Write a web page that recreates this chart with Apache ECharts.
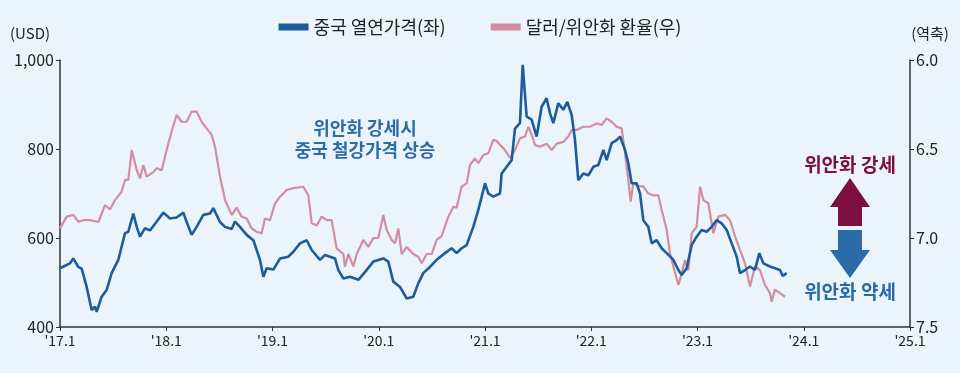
<!DOCTYPE html>
<html><head><meta charset="utf-8">
<script src="https://cdn.jsdelivr.net/npm/echarts@6/dist/echarts.min.js"></script>
<style>html,body{margin:0;padding:0;background:#eaf4fa;}#c{width:960px;height:373px;}</style>
</head><body><div id="c"></div>
<script>
// China hot-rolled steel price (USD), left axis — time in decimal years
const steelT = [2017.000,2017.094,2017.125,2017.172,2017.204,2017.251,2017.298,2017.329,2017.345,2017.392,2017.439,2017.486,2017.549,2017.612,2017.643,2017.690,2017.722,2017.753,2017.800,2017.847,2017.910,2017.973,2018.035,2018.098,2018.161,2018.192,2018.239,2018.286,2018.349,2018.412,2018.443,2018.506,2018.553,2018.616,2018.647,2018.694,2018.757,2018.820,2018.882,2018.914,2018.945,2019.008,2019.071,2019.149,2019.196,2019.259,2019.322,2019.369,2019.447,2019.494,2019.541,2019.588,2019.620,2019.667,2019.729,2019.808,2019.886,2019.949,2020.043,2020.090,2020.137,2020.200,2020.263,2020.325,2020.372,2020.419,2020.482,2020.545,2020.624,2020.686,2020.733,2020.780,2020.827,2020.890,2020.937,2020.969,2021.000,2021.031,2021.078,2021.141,2021.157,2021.204,2021.251,2021.282,2021.329,2021.355,2021.392,2021.439,2021.486,2021.533,2021.580,2021.612,2021.643,2021.690,2021.737,2021.775,2021.816,2021.847,2021.878,2021.925,2021.973,2022.020,2022.067,2022.114,2022.145,2022.192,2022.239,2022.271,2022.318,2022.349,2022.380,2022.427,2022.459,2022.490,2022.537,2022.569,2022.616,2022.663,2022.710,2022.773,2022.820,2022.851,2022.898,2022.945,2022.992,2023.039,2023.086,2023.133,2023.180,2023.227,2023.275,2023.322,2023.369,2023.400,2023.447,2023.494,2023.541,2023.582,2023.620,2023.682,2023.729,2023.776,2023.802,2023.839];
const steelV = [532,543,554,535,531,490,438,446,434,468,483,521,551,611,614,655,625,603,622,617,637,657,644,646,657,636,607,625,652,655,667,636,625,620,637,625,607,595,551,513,532,529,554,558,569,588,595,573,551,562,558,554,528,509,513,506,528,547,554,547,502,490,464,468,498,521,535,551,566,577,566,577,584,625,663,693,723,700,693,700,745,760,775,846,858,989,873,866,828,895,914,880,858,903,888,906,876,820,730,745,741,760,764,798,775,813,820,828,798,768,723,723,700,640,625,588,595,577,566,551,528,517,532,584,603,618,614,625,640,633,618,588,558,521,528,536,528,566,543,536,532,528,515,521];
// USD/CNY exchange rate, right axis (inverted)
const fxT = [2017.000,2017.063,2017.125,2017.172,2017.220,2017.282,2017.361,2017.424,2017.471,2017.518,2017.580,2017.612,2017.643,2017.675,2017.722,2017.753,2017.784,2017.816,2017.878,2017.910,2017.957,2018.004,2018.051,2018.098,2018.145,2018.192,2018.239,2018.286,2018.333,2018.380,2018.427,2018.459,2018.506,2018.553,2018.616,2018.663,2018.710,2018.757,2018.804,2018.851,2018.898,2018.929,2018.976,2019.024,2019.071,2019.133,2019.196,2019.290,2019.337,2019.369,2019.416,2019.463,2019.510,2019.557,2019.604,2019.667,2019.682,2019.714,2019.761,2019.792,2019.855,2019.902,2019.949,2019.996,2020.043,2020.075,2020.122,2020.153,2020.184,2020.216,2020.263,2020.325,2020.372,2020.404,2020.451,2020.498,2020.545,2020.592,2020.655,2020.702,2020.733,2020.780,2020.827,2020.859,2020.906,2020.937,2020.984,2021.031,2021.078,2021.110,2021.141,2021.188,2021.235,2021.282,2021.329,2021.376,2021.408,2021.439,2021.471,2021.518,2021.580,2021.627,2021.675,2021.737,2021.784,2021.816,2021.863,2021.925,2021.988,2022.051,2022.098,2022.145,2022.192,2022.239,2022.286,2022.318,2022.349,2022.371,2022.396,2022.443,2022.490,2022.537,2022.584,2022.631,2022.663,2022.710,2022.741,2022.773,2022.820,2022.851,2022.882,2022.914,2022.945,2022.992,2023.024,2023.055,2023.102,2023.149,2023.196,2023.259,2023.306,2023.353,2023.400,2023.447,2023.494,2023.541,2023.588,2023.635,2023.682,2023.698,2023.729,2023.776,2023.823];
const fxV = [6.946,6.880,6.870,6.908,6.900,6.900,6.910,6.815,6.840,6.787,6.740,6.674,6.674,6.506,6.618,6.665,6.590,6.655,6.630,6.608,6.620,6.506,6.400,6.309,6.347,6.347,6.290,6.290,6.347,6.384,6.420,6.487,6.655,6.787,6.871,6.830,6.880,6.890,6.946,6.965,6.974,6.890,6.900,6.805,6.768,6.730,6.720,6.712,6.760,6.917,6.930,6.880,6.900,6.900,7.058,7.090,7.161,7.090,7.160,7.090,7.011,7.050,7.000,7.000,6.871,6.955,7.011,7.030,6.946,7.090,7.050,7.090,7.105,7.142,7.090,7.090,7.011,6.990,6.880,6.824,6.830,6.712,6.693,6.590,6.552,6.580,6.534,6.524,6.449,6.455,6.476,6.506,6.550,6.506,6.440,6.430,6.375,6.420,6.478,6.487,6.470,6.506,6.470,6.460,6.430,6.393,6.393,6.375,6.375,6.356,6.365,6.328,6.347,6.375,6.384,6.524,6.674,6.796,6.693,6.710,6.710,6.750,6.760,6.760,6.843,6.955,7.086,7.160,7.264,7.199,7.124,7.180,6.974,6.937,6.712,6.787,6.805,6.974,6.880,6.870,6.900,6.990,7.067,7.142,7.273,7.160,7.180,7.264,7.310,7.358,7.290,7.310,7.330];

const seriesNames = ['중국 열연가격(좌)', '달러/위안화 환율(우)'];
const leftUnit = '(USD)';
const rightUnit = '(역축)';
const noteMain = '위안화 강세시\n중국 철강가격 상승';
const noteUp = '위안화 강세';
const noteDown = '위안화 약세';

const FONT = '"Noto Sans CJK KR", "Noto Sans", sans-serif';
const BLUE = '#1d5b9b', PINK = '#d38da1', MAROON = '#7c0f3f', ARROWBLUE = '#2a6aa6';
const zip = (a, b) => a.map((t, i) => [t, b[i]]);

const chart = echarts.init(document.getElementById('c'));
chart.setOption({
  backgroundColor: '#eaf4fa',
  animation: false,
  textStyle: { fontFamily: FONT },
  grid: { left: 60, right: 50, top: 60, bottom: 46 },
  legend: {
    top: 13, left: 'center', itemGap: 45, itemWidth: 30, itemHeight: 7, icon: 'rect',
    textStyle: { fontSize: 18, color: '#222', fontFamily: FONT },
    data: seriesNames
  },
  xAxis: {
    type: 'value', min: 2017, max: 2025, interval: 1,
    axisLine: { show: true, lineStyle: { color: '#333', width: 1.5 } },
    axisTick: { show: true, length: 4, lineStyle: { color: '#333' } },
    splitLine: { show: false },
    axisLabel: { color: '#222', fontSize: 14, margin: 7,
      formatter: v => "'" + String(v).slice(2) + '.1' }
  },
  yAxis: [
    { type: 'value', min: 400, max: 1000, interval: 200, position: 'left',
      axisLine: { show: true, lineStyle: { color: '#333', width: 1.5 } },
      axisTick: { show: true, length: 4, lineStyle: { color: '#333' } },
      splitLine: { show: false },
      axisLabel: { color: '#222', fontSize: 16, margin: 6,
        formatter: v => v.toLocaleString('en-US') } },
    { type: 'value', min: 6.0, max: 7.5, interval: 0.5, position: 'right', inverse: true,
      axisLine: { show: true, lineStyle: { color: '#333', width: 1.5 } },
      axisTick: { show: true, length: 4, lineStyle: { color: '#333' } },
      splitLine: { show: false },
      axisLabel: { color: '#222', fontSize: 16, margin: 6, formatter: v => v.toFixed(1) } }
  ],
  series: [
    { name: seriesNames[1], type: 'line', yAxisIndex: 1, data: zip(fxT, fxV),
      showSymbol: false, color: PINK, lineStyle: { width: 2.2, color: PINK }, z: 2 },
    { name: seriesNames[0], type: 'line', yAxisIndex: 0, data: zip(steelT, steelV),
      showSymbol: false, color: BLUE, lineStyle: { width: 2.6, color: BLUE }, z: 3 }
  ],
  graphic: [
    { type: 'text', x: 30, y: 33, style: { text: leftUnit, fill: '#222',
        font: '15px ' + FONT, textAlign: 'center', textVerticalAlign: 'middle' } },
    { type: 'text', x: 930, y: 33, style: { text: rightUnit, fill: '#222',
        font: '15px ' + FONT, textAlign: 'center', textVerticalAlign: 'middle' } },
    { type: 'text', x: 365, y: 139, style: { text: noteMain, fill: '#2e6ca8',
        font: 'bold 18px ' + FONT, textAlign: 'center', textVerticalAlign: 'middle', lineHeight: 22 } },
    { type: 'text', x: 850, y: 165, style: { text: noteUp, fill: MAROON,
        font: 'bold 19px ' + FONT, textAlign: 'center', textVerticalAlign: 'middle' } },
    { type: 'polygon', shape: { points: [[850,178],[870,207],[862,207],[862,226],[838,226],[838,207],[830,207]] },
      style: { fill: MAROON } },
    { type: 'polygon', shape: { points: [[838,230],[862,230],[862,250],[870,250],[850,278],[830,250],[838,250]] },
      style: { fill: ARROWBLUE } },
    { type: 'text', x: 850, y: 292, style: { text: noteDown, fill: ARROWBLUE,
        font: 'bold 19px ' + FONT, textAlign: 'center', textVerticalAlign: 'middle' } }
  ]
});
</script></body></html>
